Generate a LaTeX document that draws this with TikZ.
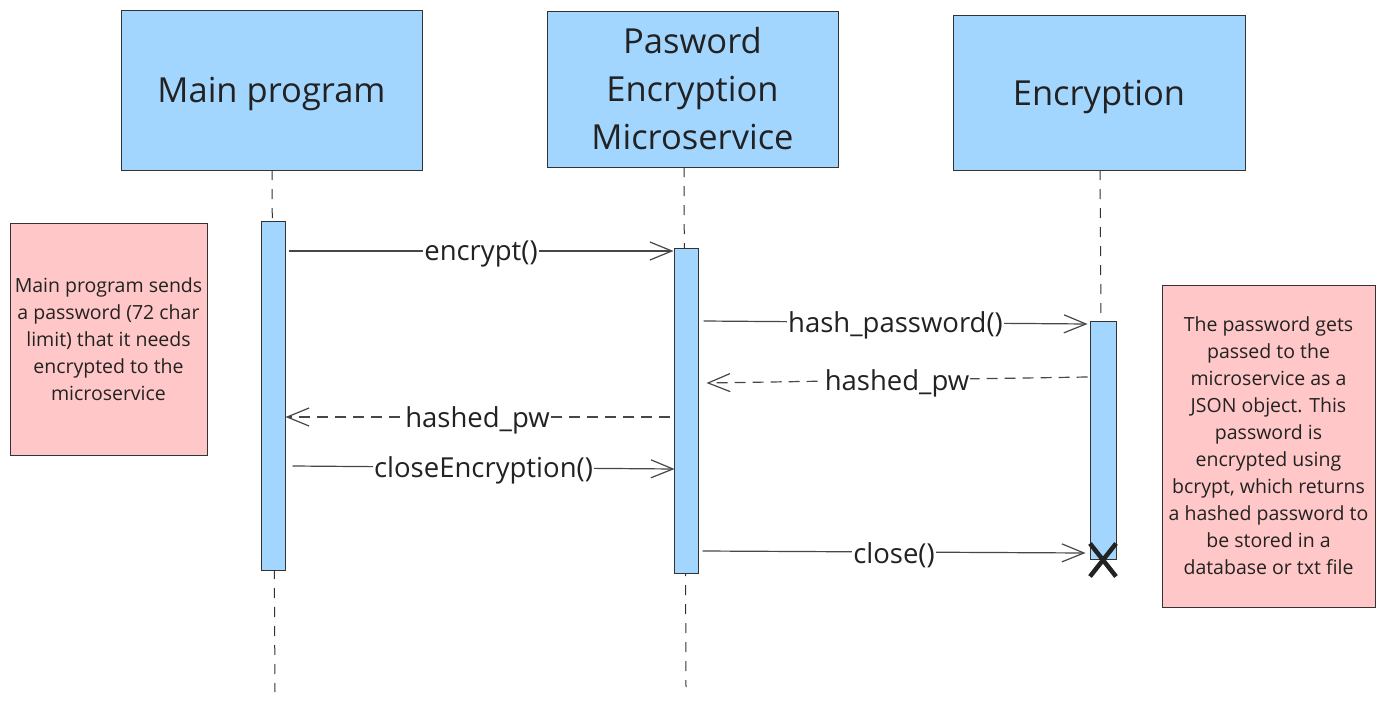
\documentclass[tikz,border=0pt]{standalone}
\usepackage{fontspec}
\setmainfont{Open Sans}
\usetikzlibrary{arrows.meta}
\definecolor{sqblue}{HTML}{A3D6FF}
\definecolor{sqnote}{HTML}{FFC7C7}
\definecolor{sqline}{HTML}{333333}
\definecolor{sqtext}{HTML}{222222}
\tikzset{
  actor/.style={draw=sqline,fill=sqblue,line width=1pt,minimum width=#1,inner sep=0pt,align=center,
    text=sqtext,font=\fontsize{34.5}{48}\selectfont},
  bar/.style={draw=sqline,fill=sqblue,line width=1pt,minimum width=24pt,inner sep=0pt},
  note/.style={draw=sqline,fill=sqnote,line width=1pt,inner sep=0pt,align=center,text=sqtext,
    font=\fontsize{19.5}{27}\selectfont},
  life/.style={draw=sqline,line width=1pt,dash pattern=on 10pt off 9pt},
  msg/.style={draw=sqline!90,line width=1.2pt,-{Straight Barb[length=22pt,width=18pt,line width=1.2pt]}},
  reply/.style={msg,dash pattern=on 11pt off 7pt},
  lbl/.style={fill=white,inner sep=1pt,yshift=-3pt,text=sqtext,font=\fontsize{27.5}{30}\selectfont}
}
\begin{document}
\begin{tikzpicture}[x=1pt,y=-1pt]
  \useasboundingbox[fill=white] (0,0) rectangle (1385,707);

  % lifelines
  \draw[life] (272,170) -- (275,692);
  \draw[life] (684,167) -- (686,687);
  \draw[life] (1100,170) -- (1101,321);

  % participants
  \node[actor=301pt,minimum height=160pt,text depth=0pt] (mainprog) at (271.5,90) {Main program};
  \node[actor=291pt,minimum height=156pt] (pwservice) at (692.5,89) {Pasword\\Encryption\\Microservice};
  \node[actor=292pt,minimum height=155pt,text depth=0pt] (encrypt) at (1099,92.5) {Encryption};

  % activation bars
  \node[bar,minimum height=349pt] (mainbar) at (273,395.5) {};
  \node[bar,minimum height=325pt] (svcbar) at (686,410.5) {};
  \node[bar,minimum width=26pt,minimum height=238pt] (encbar) at (1103,440) {};

  % notes
  \node[note,minimum width=197pt,minimum height=232pt] (mainnote) at (108.5,339)
    {Main program sends\\a password (72 char\\limit) that it needs\\encrypted to the\\microservice};
  \node[note,minimum width=213pt,minimum height=322pt] (encnote) at (1268.5,446)
    {The password gets\\passed to the\\microservice as a\\JSON object. This\\password is\\encrypted using\\bcrypt, which returns\\a hashed password to\\be stored in a\\database or txt file};

  % messages
  \draw[msg] ([xshift=3pt]mainbar.east |- 0,251) -- node[lbl] {encrypt()} (svcbar.west |- 0,251);
  \draw[msg] ([xshift=5pt]svcbar.east |- 0,321) -- node[lbl] {hash\_password()} ([xshift=-2pt]encbar.west |- 0,324);
  \draw[reply] ([xshift=-2pt]encbar.west |- 0,377) -- node[lbl] {hashed\_pw} ([xshift=8pt]svcbar.east |- 0,383);
  \draw[reply] ([xshift=-4pt]svcbar.west |- 0,417) -- node[lbl] {hashed\_pw} (mainbar.east |- 0,417);
  \draw[msg] ([xshift=7pt]mainbar.east |- 0,466) -- node[lbl] {closeEncryption()} ([xshift=1pt]svcbar.west |- 0,469);
  \draw[msg] ([xshift=4pt]svcbar.east |- 0,551) -- node[lbl] {close()} ([xshift=-4pt]encbar.west |- 0,553);

  % destruction mark
  \draw[sqtext,line width=4.5pt] ([shift={(-13pt,-17pt)}]encbar.south) -- ([shift={(13pt,16pt)}]encbar.south)
    ([shift={(13pt,-17pt)}]encbar.south) -- ([shift={(-13pt,16pt)}]encbar.south);
\end{tikzpicture}
\end{document}
